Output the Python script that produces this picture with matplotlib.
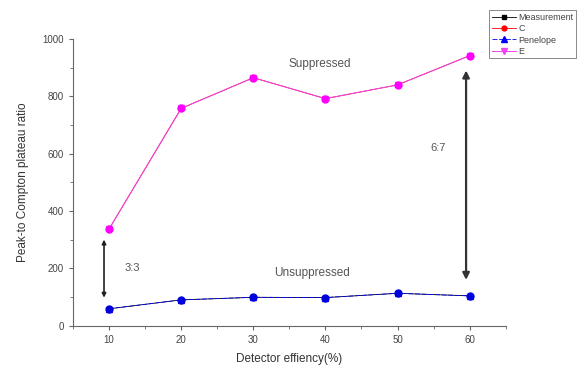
import matplotlib
matplotlib.use("Agg")
import matplotlib.pyplot as plt
from matplotlib.ticker import MultipleLocator

plt.rcParams['font.family'] = ['Liberation Sans', 'DejaVu Sans']

efficiency = [10, 20, 30, 40, 50, 60]
measurement = [59, 90, 99, 98, 113, 104]
c_values = [337, 758, 865, 792, 840, 942]
penelope = [59, 90, 99, 98, 113, 104]
e_values = [337, 758, 865, 792, 840, 942]

fig = plt.figure(figsize=(5.84, 3.68), dpi=100)
ax = fig.add_axes([0.125, 0.115, 0.741, 0.779])

ax.plot(efficiency, measurement, color='black', marker='s', ms=3.5, lw=0.6, label='Measurement')
ax.plot(efficiency, c_values, color='red', marker='o', ms=3.5, lw=0.6, label='C')
ax.plot(efficiency, penelope, color='blue', marker='^', ms=4.5, lw=0.6, ls=(0, (6, 2)), label='Penelope')
ax.plot(efficiency, e_values, color='#ee44ee', marker='v', ms=4.5, lw=0.7, label='E')
ax.plot(efficiency, e_values, color='#ff00ff', marker='o', ms=5, lw=0, zorder=5)
ax.plot(efficiency, penelope, color='#0000dd', marker='o', ms=5, lw=0, zorder=5)

ax.set_xlim(5, 65)
ax.set_ylim(0, 1000)
ax.xaxis.set_major_locator(MultipleLocator(10))
ax.xaxis.set_minor_locator(MultipleLocator(5))
ax.yaxis.set_major_locator(MultipleLocator(200))
ax.yaxis.set_minor_locator(MultipleLocator(100))
ax.spines['top'].set_visible(False)
ax.spines['right'].set_visible(False)
for s in ['left', 'bottom']:
    ax.spines[s].set_color('#666666')
ax.tick_params(which='both', direction='out', colors='#666666', labelsize=7, labelcolor='#444444')
ax.tick_params(which='major', length=3)
ax.tick_params(which='minor', length=2)

ax.set_xlabel('Detector effiency(%)', fontsize=8.5, color='#333333', labelpad=6)
ax.set_ylabel('Peak-to Compton plateau ratio', fontsize=8.5, color='#333333', labelpad=10)

ax.annotate('', xy=(9.3, 88), xytext=(9.3, 310),
            arrowprops=dict(arrowstyle='<|-|>', color='#222222', lw=1.2, mutation_scale=6))
ax.annotate('', xy=(59.5, 150), xytext=(59.5, 900),
            arrowprops=dict(arrowstyle='<|-|>', color='#333333', lw=1.6, mutation_scale=10))
ax.text(12.2, 200, '3:3', fontsize=8, color='#555555', va='center')
ax.text(54.5, 620, '6:7', fontsize=8, color='#555555', va='center')
ax.text(39.2, 913, 'Suppressed', fontsize=8.5, color='#555555', ha='center', va='center')
ax.text(38.2, 184, 'Unsuppressed', fontsize=8.5, color='#555555', ha='center', va='center')

leg = ax.legend(loc='upper left', bbox_to_anchor=(0.838, 0.972), bbox_transform=fig.transFigure,
                fontsize=6.5, frameon=True, fancybox=False, edgecolor='#555555',
                handlelength=2.6, borderpad=0.3, labelspacing=0.25, handletextpad=0.3,
                borderaxespad=0)
leg.get_frame().set_linewidth(0.6)
for t in leg.get_texts():
    t.set_color('#444444')

fig.savefig('out.png', dpi=100)
